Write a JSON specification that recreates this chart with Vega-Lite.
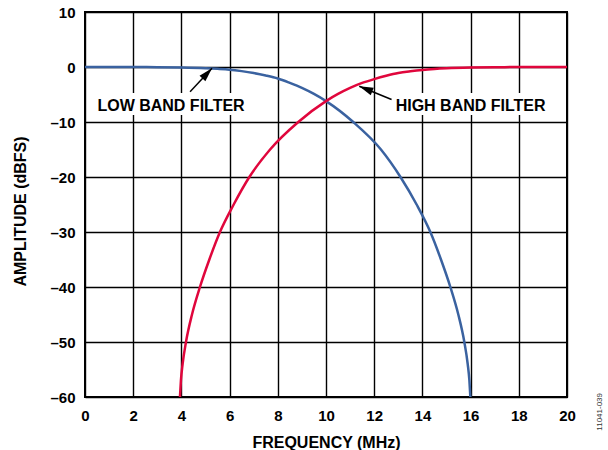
{
  "$schema": "https://vega.github.io/schema/vega-lite/v6.json",
  "width": 482,
  "height": 385,
  "autosize": {"type": "none"},
  "padding": {"left": 85, "top": 12, "right": 41, "bottom": 53},
  "background": "white",
  "config": {
    "font": "Liberation Sans",
    "view": {"stroke": "black", "strokeWidth": 2},
    "axis": {
      "grid": true,
      "gridColor": "#000000",
      "gridWidth": 1.4,
      "gridOpacity": 1,
      "domain": false,
      "ticks": false,
      "labelFlush": false,
      "labelOverlap": false,
      "labelFont": "Liberation Sans",
      "labelFontSize": 15,
      "labelFontWeight": "bold",
      "labelColor": "#000000",
      "titleFont": "Liberation Sans",
      "titleFontSize": 16,
      "titleFontWeight": "bold",
      "titleColor": "#000000"
    }
  },
  "datasets": {
    "curves": [
      {"f": 0, "db": 0, "filter": "LOW"},
      {"f": 1, "db": 0, "filter": "LOW"},
      {"f": 2, "db": -0.01, "filter": "LOW"},
      {"f": 3, "db": -0.03, "filter": "LOW"},
      {"f": 4, "db": -0.09, "filter": "LOW"},
      {"f": 5, "db": -0.22, "filter": "LOW"},
      {"f": 5.5, "db": -0.33, "filter": "LOW"},
      {"f": 6, "db": -0.48, "filter": "LOW"},
      {"f": 6.5, "db": -0.75, "filter": "LOW"},
      {"f": 7, "db": -1.1, "filter": "LOW"},
      {"f": 7.5, "db": -1.55, "filter": "LOW"},
      {"f": 8, "db": -2.1, "filter": "LOW"},
      {"f": 8.5, "db": -2.9, "filter": "LOW"},
      {"f": 9, "db": -3.8, "filter": "LOW"},
      {"f": 9.5, "db": -4.9, "filter": "LOW"},
      {"f": 10, "db": -6.2, "filter": "LOW"},
      {"f": 11.13, "db": -10, "filter": "LOW"},
      {"f": 12.28, "db": -15, "filter": "LOW"},
      {"f": 13.09, "db": -20, "filter": "LOW"},
      {"f": 13.76, "db": -25, "filter": "LOW"},
      {"f": 14.33, "db": -30, "filter": "LOW"},
      {"f": 14.77, "db": -35, "filter": "LOW"},
      {"f": 15.16, "db": -40, "filter": "LOW"},
      {"f": 15.49, "db": -45, "filter": "LOW"},
      {"f": 15.74, "db": -50, "filter": "LOW"},
      {"f": 15.88, "db": -54, "filter": "LOW"},
      {"f": 15.95, "db": -57, "filter": "LOW"},
      {"f": 15.99, "db": -60, "filter": "LOW"},
      {"f": 3.94, "db": -60, "filter": "HIGH"},
      {"f": 3.98, "db": -57, "filter": "HIGH"},
      {"f": 4.05, "db": -54, "filter": "HIGH"},
      {"f": 4.19, "db": -50, "filter": "HIGH"},
      {"f": 4.44, "db": -45, "filter": "HIGH"},
      {"f": 4.77, "db": -40, "filter": "HIGH"},
      {"f": 5.16, "db": -35, "filter": "HIGH"},
      {"f": 5.6, "db": -30, "filter": "HIGH"},
      {"f": 6.17, "db": -25, "filter": "HIGH"},
      {"f": 6.82, "db": -20, "filter": "HIGH"},
      {"f": 7.68, "db": -15, "filter": "HIGH"},
      {"f": 8.85, "db": -10, "filter": "HIGH"},
      {"f": 10, "db": -6.2, "filter": "HIGH"},
      {"f": 10.5, "db": -4.9, "filter": "HIGH"},
      {"f": 11, "db": -3.8, "filter": "HIGH"},
      {"f": 11.5, "db": -2.9, "filter": "HIGH"},
      {"f": 12, "db": -2.2, "filter": "HIGH"},
      {"f": 12.5, "db": -1.6, "filter": "HIGH"},
      {"f": 13, "db": -1.1, "filter": "HIGH"},
      {"f": 13.5, "db": -0.78, "filter": "HIGH"},
      {"f": 14, "db": -0.53, "filter": "HIGH"},
      {"f": 14.5, "db": -0.36, "filter": "HIGH"},
      {"f": 15, "db": -0.24, "filter": "HIGH"},
      {"f": 16, "db": -0.1, "filter": "HIGH"},
      {"f": 17, "db": -0.04, "filter": "HIGH"},
      {"f": 18, "db": -0.01, "filter": "HIGH"},
      {"f": 19, "db": 0, "filter": "HIGH"},
      {"f": 20, "db": 0, "filter": "HIGH"}
    ],
    "labels": [
      {"text": "LOW BAND FILTER", "f": 3.57, "db": -8.05, "f1": 0.29, "f2": 6.85, "db1": -4.73, "db2": -8.73},
      {"text": "HIGH BAND FILTER", "f": 16.0, "db": -8.05, "f1": 12.74, "f2": 19.25, "db1": -4.73, "db2": -8.73}
    ],
    "arrows": [
      {"name": "LOW", "f": 4.36, "db": -4.5, "f2": 5.27, "db2": -0.24},
      {"name": "HIGH", "f": 12.72, "db": -5.9, "f2": 11.38, "db2": -3.5}
    ],
    "note": [
      {"text": "11041-039", "f": 21.37, "db": -62.7}
    ]
  },
  "layer": [
    {
      "data": {"name": "labels"},
      "mark": {"type": "rect", "fill": "white", "stroke": null},
      "encoding": {
        "x": {"field": "f1", "type": "quantitative", "scale": {"domain": [0, 20], "nice": false}},
        "x2": {"field": "f2"},
        "y": {"field": "db1", "type": "quantitative", "scale": {"domain": [-60, 10], "nice": false}},
        "y2": {"field": "db2"}
      }
    },
    {
      "data": {"name": "curves"},
      "mark": {"type": "line", "strokeWidth": 2.5, "interpolate": "monotone", "clip": true},
      "encoding": {
        "x": {
          "field": "f", "type": "quantitative",
          "scale": {"domain": [0, 20], "nice": false},
          "axis": {
            "values": [0, 2, 4, 6, 8, 10, 12, 14, 16, 18, 20],
            "labelPadding": 11,
            "title": "FREQUENCY (MHz)",
            "titleY": 50,
            "titleBaseline": "alphabetic"
          }
        },
        "y": {
          "field": "db", "type": "quantitative",
          "scale": {"domain": [-60, 10], "nice": false},
          "axis": {
            "values": [-60, -50, -40, -30, -20, -10, 0, 10],
            "labelPadding": 10,
            "labelExpr": "datum.value < 0 ? '–' + format(-datum.value, 'd') : format(datum.value, 'd')",
            "title": "AMPLITUDE (dBFS)",
            "titleX": -65,
            "titleY": 199,
            "titleAngle": 270,
            "titleAlign": "center",
            "titleBaseline": "middle"
          }
        },
        "color": {
          "field": "filter", "type": "nominal",
          "scale": {"domain": ["LOW", "HIGH"], "range": ["#3a62a0", "#e0063c"]},
          "legend": null
        },
        "order": {"field": "f", "type": "quantitative"}
      }
    },
    {
      "data": {"name": "labels"},
      "mark": {"type": "text", "font": "Liberation Sans", "fontSize": 16, "fontWeight": "bold", "color": "black", "align": "center", "baseline": "alphabetic"},
      "encoding": {
        "x": {"field": "f", "type": "quantitative"},
        "y": {"field": "db", "type": "quantitative"},
        "text": {"field": "text"}
      }
    },
    {
      "data": {"name": "arrows"},
      "mark": {"type": "rule", "color": "black", "strokeWidth": 1.5},
      "encoding": {
        "x": {"field": "f", "type": "quantitative"},
        "y": {"field": "db", "type": "quantitative"},
        "x2": {"field": "f2"},
        "y2": {"field": "db2"}
      }
    },
    {
      "data": {"name": "arrows"},
      "transform": [{"filter": "datum.name === 'LOW'"}],
      "mark": {"type": "point", "shape": "M0,0L0.8,2.8L-0.8,2.8Z", "size": 100, "filled": true, "color": "black", "opacity": 1, "angle": 43},
      "encoding": {
        "x": {"field": "f2", "type": "quantitative"},
        "y": {"field": "db2", "type": "quantitative"}
      }
    },
    {
      "data": {"name": "arrows"},
      "transform": [{"filter": "datum.name === 'HIGH'"}],
      "mark": {"type": "point", "shape": "M0,0L0.8,2.8L-0.8,2.8Z", "size": 100, "filled": true, "color": "black", "opacity": 1, "angle": 292},
      "encoding": {
        "x": {"field": "f2", "type": "quantitative"},
        "y": {"field": "db2", "type": "quantitative"}
      }
    },
    {
      "data": {"name": "note"},
      "mark": {"type": "text", "font": "Liberation Sans", "fontSize": 8, "color": "#333333", "angle": 270, "align": "center", "baseline": "middle"},
      "encoding": {
        "x": {"field": "f", "type": "quantitative"},
        "y": {"field": "db", "type": "quantitative"},
        "text": {"field": "text"}
      }
    }
  ]
}
